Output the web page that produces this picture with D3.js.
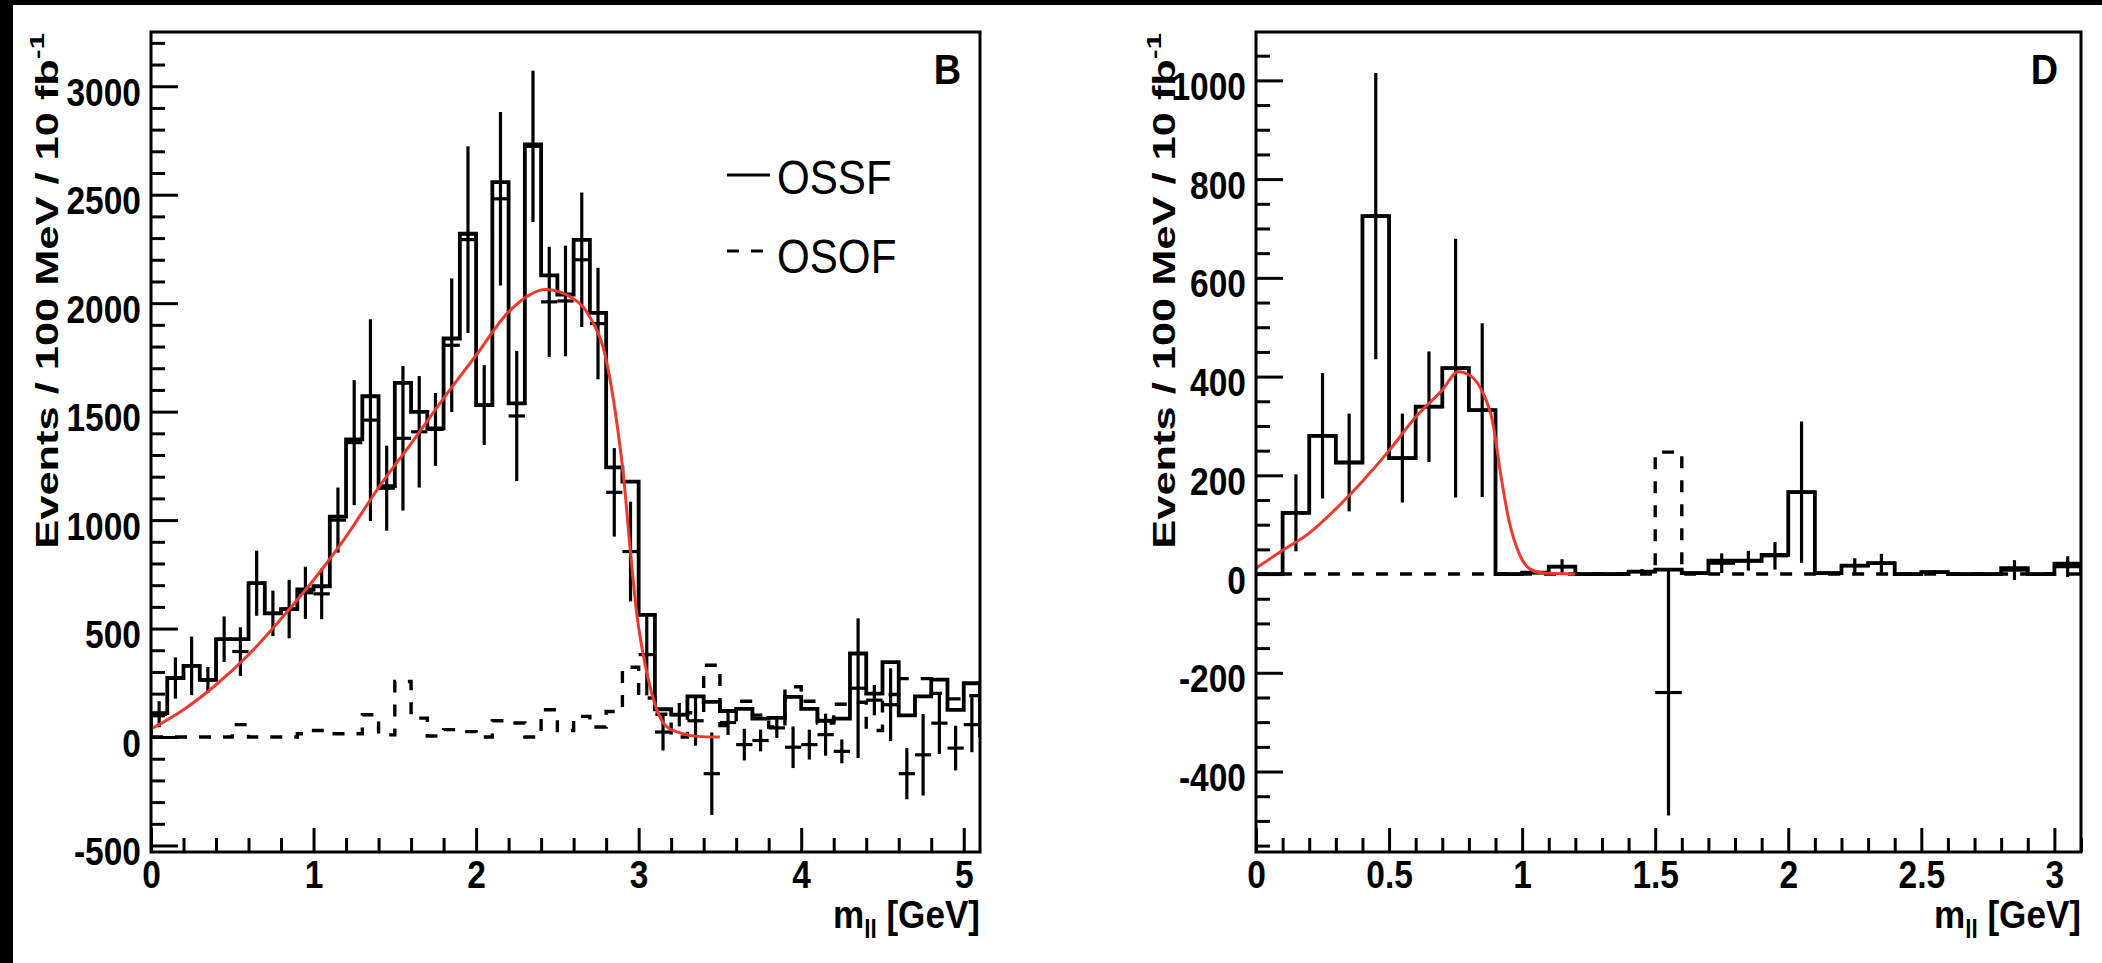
<!DOCTYPE html>
<html><head><meta charset="utf-8">
<script src="https://cdn.jsdelivr.net/npm/d3@7"></script>
<style>
html,body{margin:0;padding:0;background:#fff;}
svg{display:block;}
text{font-family:"Liberation Sans", Arial, Helvetica, sans-serif;}
</style></head><body>
<svg id="chart" width="2102" height="963"></svg>
<script>
// ---------- Panel B : 51 bins of 0.1 GeV from 0 to 5.1 ----------
const ossfB = [110,272,328,263,451,451,709,570,590,680,695,1016,1372,1571,1157,1633,1499,1423,1837,2320,1530,2558,1538,2732,2128,2040,2292,1955,1243,1177,563,128,103,187,162,120,130,85,88,185,130,75,85,385,200,345,100,187,265,125,248];
const osofB = [0,0,0,0,0,57,0,0,0,15,30,15,15,103,10,256,87,5,34,25,0,75,65,0,126,30,95,46,118,322,180,105,0,112,331,53,165,101,46,232,165,64,151,160,30,196,269,269,201,176,191];
const diffB = [105,272,328,263,451,394,709,570,590,665,660,1000,1357,1461,1147,1377,1407,1418,1806,2293,1530,2481,1480,2723,2006,2010,2200,1906,1128,855,380,23,103,75,-169,67,-35,-16,42,-47,-35,11,-66,225,170,149,-169,-82,64,-51,57];
const errB  = [60,95,135,60,105,112,150,105,135,120,117,150,288,465,196,333,257,168,308,430,184,400,300,349,254,255,310,257,204,230,188,85,54,115,190,57,73,50,46,96,69,97,55,322,70,168,118,188,142,103,127];
const fitBx = [0,0.2,0.4,0.6,0.8,1.0,1.2,1.4,1.6,1.8,2.0,2.2,2.43,2.58,2.70,2.80,2.86,2.91,2.95,2.99,3.03,3.08,3.12,3.17,3.26,3.36,3.5];
const fitBy = [37,126,241,379,545,724,924,1150,1353,1561,1760,1960,2063,2029,1936,1740,1480,1180,850,560,371,203,110,49,18,3,0];
const xTicksB = [0,1,2,3,4,5];
const yTicksB = [-500,0,500,1000,1500,2000,2500,3000];

// ---------- Panel D : 31 bins of 0.1 GeV from 0 to 3.1 ----------
const ossfD = [0,124,280,226,725,235,339,417,332,0,3,15,0,0,5,9,2,27,27,39,166,2,17,22,0,4,0,0,12,0,21];
const osofD = [0,0,0,0,0,0,0,0,0,0,0,0,0,0,0,247,0,0,0,0,0,0,0,0,0,0,0,0,0,0,0];
const diffD = [0,124,280,226,725,235,339,417,332,0,3,15,0,0,5,-240,2,22,27,37,166,2,17,22,0,4,0,0,8,0,15];
const errD  = [0,78,127,99,290,90,112,262,176,0,3,15,0,0,5,249,3,20,20,28,143,3,15,19,0,4,0,0,20,0,21];
const fitDx = [0,0.1,0.2,0.3,0.4,0.5,0.6,0.7,0.76,0.81,0.85,0.89,0.92,0.95,0.99,1.03,1.08,1.2];
const fitDy = [12,48,83,132,188,250,318,373,410,400,370,306,200,110,40,10,2,0];
const xTicksD = [0,0.5,1,1.5,2,2.5,3];
const yTicksD = [-400,-200,0,200,400,600,800,1000];

const legendLabels = ["OSSF","OSOF"];
const panelLabels = ["B","D"];

const SX = 0.86; // horizontal squeeze of the ROOT-style lettering

const svg = d3.select("#chart");
svg.append("rect").attr("x",0).attr("y",0).attr("width",2102).attr("height",963).attr("fill","#fff");
svg.append("rect").attr("x",0).attr("y",0).attr("width",13).attr("height",963).attr("fill","#000");
svg.append("rect").attr("x",0).attr("y",0).attr("width",2102).attr("height",5).attr("fill","#000");

function drawPanel(cfg, idx){
  const g = svg.append("g");
  const x = d3.scaleLinear().domain(cfg.xDomain).range([cfg.x0, cfg.x1]);
  const y = d3.scaleLinear().domain(cfg.yDomain).range([cfg.y1, cfg.y0]);
  const n = cfg.ossf.length;
  const edges = d3.range(n+1).map(i => i/10);
  const clipId = "clip"+idx;
  svg.append("clipPath").attr("id",clipId).append("rect")
     .attr("x",cfg.x0).attr("y",cfg.y0).attr("width",cfg.x1-cfg.x0).attr("height",cfg.y1-cfg.y0);
  const plot = g.append("g").attr("clip-path",`url(#${clipId})`);

  const step = d3.line().x(d=>x(d[0])).y(d=>y(d[1])).curve(d3.curveStepAfter);
  function stepPts(vals){
    const pts = [[edges[0],0]];
    vals.forEach((v,i)=>pts.push([edges[i],v]));
    pts.push([edges[n], vals[n-1]]);
    pts.push([edges[n], 0]);
    return pts;
  }
  // OSSF solid histogram
  plot.append("path").attr("d", step(stepPts(cfg.ossf)))
    .attr("fill","none").attr("stroke","#000").attr("stroke-width",3.8);
  // OSOF dashed histogram
  const osPts = [];
  cfg.osof.forEach((v,i)=>osPts.push([edges[i],v]));
  osPts.push([edges[n], cfg.osof[n-1]]);
  plot.append("path").attr("d", step(osPts))
    .attr("fill","none").attr("stroke","#000").attr("stroke-width",3.4)
    .attr("stroke-dasharray","12,12");
  // difference points with error bars (crosses)
  const cr = plot.append("g").attr("stroke","#000").attr("stroke-width",3.2);
  cfg.diff.forEach((v,i)=>{
    cr.append("line").attr("x1",x(edges[i])).attr("x2",x(edges[i+1])).attr("y1",y(v)).attr("y2",y(v));
    const c = (edges[i]+edges[i+1])/2;
    if (cfg.err[i]>0) cr.append("line").attr("x1",x(c)).attr("x2",x(c))
      .attr("y1",y(v-cfg.err[i])).attr("y2",y(v+cfg.err[i]));
  });
  // fit curve
  const fitLine = d3.line().x(d=>x(d[0])).y(d=>y(d[1])).curve(d3.curveMonotoneX);
  plot.append("path").attr("d", fitLine(cfg.fitX.map((v,i)=>[v,cfg.fitY[i]])))
    .attr("fill","none").attr("stroke","#ee3a2e").attr("stroke-width",3);

  // axes
  const fmt = d => String(d);
  const yMinor = d3.range(Math.ceil(cfg.yDomain[0]/cfg.yMinorStep)*cfg.yMinorStep, cfg.yDomain[1], cfg.yMinorStep)
                   .filter(v=>!cfg.yTicks.includes(v));
  const xMinor = d3.range(1, Math.floor(cfg.xDomain[1]/cfg.xMinorStep+1e-6)+1).map(k=>+(k*cfg.xMinorStep).toFixed(3))
                   .filter(v=>!cfg.xTicks.some(t=>Math.abs(t-v)<1e-6));
  const ya = g.append("g").attr("transform",`translate(${cfg.x0},0)`)
    .call(d3.axisLeft(y).tickValues(cfg.yTicks).tickSize(-27).tickPadding(10).tickFormat(fmt));
  const yam = g.append("g").attr("transform",`translate(${cfg.x0},0)`)
    .call(d3.axisLeft(y).tickValues(yMinor).tickSize(-14).tickFormat(""));
  const xa = g.append("g").attr("transform",`translate(0,${cfg.y1})`)
    .call(d3.axisBottom(x).tickValues(cfg.xTicks).tickSize(-24).tickPadding(8).tickFormat(fmt));
  const xam = g.append("g").attr("transform",`translate(0,${cfg.y1})`)
    .call(d3.axisBottom(x).tickValues(xMinor).tickSize(-14).tickFormat(""));
  [ya,yam,xa,xam].forEach(a=>{
    a.select(".domain").remove();
    a.selectAll(".tick line").attr("stroke","#000").attr("stroke-width",3);
    a.selectAll("text").attr("fill","#000").attr("font-size",39).attr("font-weight","bold")
      .attr("transform",`scale(${SX},1)`);
  });
  ya.selectAll("text").attr("dy","0.49em").attr("x",-10/SX);

  // frame
  g.append("rect").attr("x",cfg.x0).attr("y",cfg.y0).attr("width",cfg.x1-cfg.x0).attr("height",cfg.y1-cfg.y0)
    .attr("fill","none").attr("stroke","#000").attr("stroke-width",3);

  // y title (stretched along its length)
  const yt = g.append("text").attr("text-anchor","end").attr("font-weight","bold").attr("font-size",31)
    .attr("transform",`translate(${cfg.yTitleX},33) rotate(-90) scale(1.4,1)`);
  yt.append("tspan").text("Events / 100 MeV / 10 fb");
  yt.append("tspan").attr("font-size",21).attr("dy",-14).text("-1");

  // x title
  const xt = g.append("text").attr("text-anchor","end").attr("font-weight","bold").attr("font-size",39)
    .attr("transform",`translate(${cfg.x1},928) scale(0.9,1)`);
  xt.append("tspan").text("m");
  xt.append("tspan").attr("font-size",25).attr("dy",10).text("ll");
  xt.append("tspan").attr("dy",-10).text(" [GeV]");

  // panel label
  g.append("text").attr("text-anchor","end").attr("font-weight","bold").attr("font-size",43)
    .attr("transform",`translate(${cfg.labelX},84) scale(0.88,1)`).text(cfg.label);
  return {x,y,g};
}

drawPanel({
  x0:151, x1:980, y0:32, y1:852, xDomain:[0,5.1], yDomain:[-530,3250],
  ossf:ossfB, osof:osofB, diff:diffB, err:errB, fitX:fitBx, fitY:fitBy,
  xTicks:xTicksB, yTicks:yTicksB, yMinorStep:100, xMinorStep:0.2,
  yTitleX:58, labelX:961, label:panelLabels[0]
},0);
drawPanel({
  x0:1256, x1:2081, y0:32, y1:852, xDomain:[0,3.1], yDomain:[-563,1098],
  ossf:ossfD, osof:osofD, diff:diffD, err:errD, fitX:fitDx, fitY:fitDy,
  xTicks:xTicksD, yTicks:yTicksD, yMinorStep:50, xMinorStep:0.1,
  yTitleX:1175, labelX:2058, label:panelLabels[1]
},1);

// legend (panel B)
const lg = svg.append("g");
lg.append("line").attr("x1",727).attr("x2",770).attr("y1",175).attr("y2",175).attr("stroke","#000").attr("stroke-width",3);
lg.append("line").attr("x1",727).attr("x2",763).attr("y1",251).attr("y2",251).attr("stroke","#000").attr("stroke-width",3).attr("stroke-dasharray","12,12");
lg.selectAll("text.leg").data(legendLabels).enter().append("text").attr("class","leg")
  .attr("font-size",49).attr("fill","#000")
  .attr("transform",(d,i)=>`translate(777,${194+i*79}) scale(0.86,1)`).text(d=>d);
</script>
</body></html>
